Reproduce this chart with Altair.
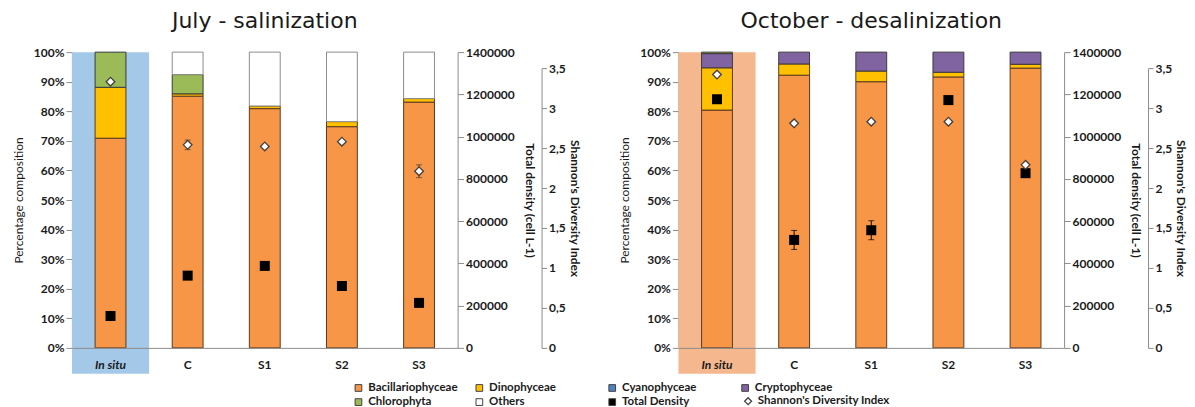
import altair as alt
import pandas as pd

categories = ["In situ", "C", "S1", "S2", "S3"]
groups = ["Bacillariophyceae", "Dinophyceae", "Cyanophyceae", "Cryptophyceae", "Chlorophyta", "Others"]
group_colors = ["#F79646", "#FFC000", "#4F81BD", "#8064A2", "#9BBB59", "#FFFFFF"]
group_strokes = ["#5a3a22", "#5a3a22", "#3a3a3a", "#3a3a3a", "#3a3a3a", "#8c8c8c"]

# July - salinization (percent composition)
july = {
    "Bacillariophyceae": [70.9, 85.1, 80.9, 74.8, 83.1],
    "Dinophyceae": [17.2, 0.8, 0.9, 1.7, 1.2],
    "Cyanophyceae": [0, 0, 0, 0, 0],
    "Cryptophyceae": [0, 0, 0, 0, 0],
    "Chlorophyta": [11.9, 6.5, 0, 0, 0],
    "Others": [0, 7.6, 18.2, 23.5, 15.7],
}
july_density = [151000, 342000, 388000, 293000, 213000]
july_density_err = [0, 0, 0, 0, 0]
july_shannon = [3.33, 2.54, 2.52, 2.58, 2.21]
july_shannon_err = [0, 0.06, 0, 0, 0.08]

# October - desalinization
october = {
    "Bacillariophyceae": [80.4, 92.2, 90.0, 91.6, 94.6],
    "Dinophyceae": [14.3, 3.8, 3.6, 1.6, 1.3],
    "Cyanophyceae": [0, 0, 0, 0, 0],
    "Cryptophyceae": [4.8, 4.0, 6.4, 6.8, 4.1],
    "Chlorophyta": [0.5, 0, 0, 0, 0],
    "Others": [0, 0, 0, 0, 0],
}
october_density = [1177000, 511000, 557000, 1173000, 827000]
october_density_err = [0, 45000, 45000, 0, 0]
october_shannon = [3.42, 2.81, 2.83, 2.83, 2.29]
october_shannon_err = [0, 0, 0, 0, 0]

# legend entries (blocks of 2 columns, row-major)
legend_a_items = ["Bacillariophyceae", "Dinophyceae", "Chlorophyta", "Others"]
legend_a_colors = ["#F79646", "#FFC000", "#9BBB59", "#FFFFFF"]
legend_b_items = ["Cyanophyceae", "Cryptophyceae", "Total Density"]
legend_b_colors = ["#4F81BD", "#8064A2", "#000000"]
legend_c_items = ["Shannon's Diversity Index"]
legend_c_shapes = ["diamond"]

W_LEFT, W_RIGHT, H = 386, 386, 296
LABEL_FONT = "Lato"
LEG_Y = 330


def legend_params(x, y, colpad):
    return dict(title=None, orient="none", legendX=x, legendY=y, columns=2,
                direction="horizontal", gridAlign="each", columnPadding=colpad, rowPadding=1.5,
                labelFont=LABEL_FONT, labelFontSize=11.5, labelFontWeight="bold",
                labelColor="#1a1a1a", symbolSize=45, labelOffset=4)


def panel(title, comp, density, density_err, shannon, shannon_err, bg_color, width,
          leg_items, leg_colors, leg_x, leg_pad, with_shape_legend):
    rows = []
    for gi, g in enumerate(groups):
        for ci, c in enumerate(categories):
            v = comp[g][ci]
            if v > 0:
                rows.append({"cat": c, "group": g, "order": gi, "pct": v / 100.0,
                             "colour": group_colors[gi], "edge": group_strokes[gi]})
    comp_df = pd.DataFrame(rows)
    pts = pd.DataFrame({
        "cat": categories,
        "density": density,
        "d_lo": [d - e for d, e in zip(density, density_err)],
        "d_hi": [d + e for d, e in zip(density, density_err)],
        "d_err": density_err,
        "shannon": shannon,
        "s_lo": [s - e for s, e in zip(shannon, shannon_err)],
        "s_hi": [s + e for s, e in zip(shannon, shannon_err)],
        "s_err": shannon_err,
    })

    xenc = alt.X("cat:N", sort=categories,
                 scale=alt.Scale(domain=categories, paddingInner=0, paddingOuter=0),
                 axis=alt.Axis(title=None, labelAngle=0, ticks=False, labelPadding=12,
                               domainColor="#8c8c8c", labelFont=LABEL_FONT, labelFontSize=12,
                               labelFontWeight="bold", labelColor="#1a1a1a", zindex=1,
                               labelFontStyle={"condition": {"test": "datum.value == 'In situ'", "value": "italic"}, "value": "normal"}))

    layers = []
    leg = alt.Chart(pd.DataFrame({"item": leg_items})).mark_point(filled=True, shape="square").encode(
        x=alt.value(40), y=alt.value(150),
        color=alt.Color("item:N", scale=alt.Scale(domain=leg_items, range=leg_colors),
                        legend=alt.Legend(symbolType="square", symbolStrokeColor="#404040",
                                          symbolStrokeWidth=1, symbolOpacity=1,
                                          **legend_params(leg_x, LEG_Y, leg_pad))),
    )
    layers.append(leg)
    if with_shape_legend:
        leg_c = alt.Chart(pd.DataFrame({"sh": legend_c_items})).mark_point(
            filled=False, color="#404040", strokeWidth=1.2).encode(
            x=alt.value(40), y=alt.value(150),
            shape=alt.Shape("sh:N", scale=alt.Scale(domain=legend_c_items, range=legend_c_shapes),
                            legend=alt.Legend(symbolStrokeColor="#404040", symbolStrokeWidth=1.2,
                                              symbolOpacity=1, symbolSize=50,
                                              **{k: v for k, v in legend_params(64, LEG_Y + 13.5, 10).items()
                                                 if k != "symbolSize"})),
        )
        layers.append(leg_c)

    bg = alt.Chart(pd.DataFrame({"cat": ["In situ"]})).mark_rect(color=bg_color).encode(
        x=xenc, y=alt.value(0), y2=alt.value(H + 26))
    layers.append(bg)

    bars = alt.Chart(comp_df).mark_bar(width={"band": 0.4}, strokeWidth=1).encode(
        x=xenc,
        y=alt.Y("pct:Q", stack="zero",
                scale=alt.Scale(domain=[0, 1], nice=False),
                axis=alt.Axis(orient="left", title="Percentage composition", format=".0%",
                              values=[i / 10 for i in range(11)], grid=False,
                              domainColor="#8c8c8c", tickColor="#8c8c8c", tickSize=6,
                              labelFont=LABEL_FONT, labelFontSize=12, labelFontWeight="bold",
                              labelColor="#1a1a1a", titleFont=LABEL_FONT, titleFontSize=12,
                              titleFontWeight="normal", titleColor="#1a1a1a", titlePadding=8)),
        color=alt.Color("colour:N", scale=None),
        stroke=alt.Stroke("edge:N", scale=None),
        order=alt.Order("order:Q"),
    )
    layers.append(bars)

    dens_scale = alt.Scale(domain=[0, 1400000], nice=False)
    dens_axis = alt.Axis(orient="right", title="Total density (cell L-1)", format="d",
                         values=[i * 200000 for i in range(8)], grid=False,
                         domainColor="#8c8c8c", tickColor="#8c8c8c", tickSize=6,
                         labelFont=LABEL_FONT, labelFontSize=12, labelFontWeight="bold",
                         labelColor="#1a1a1a", titleFont=LABEL_FONT, titleFontSize=12,
                         titleFontWeight="bold", titleColor="#1a1a1a", titlePadding=8)
    d_err = pts[pts["d_err"] > 0]
    d_rule = alt.Chart(d_err).mark_rule(color="black", strokeWidth=1).encode(
        x=xenc, y=alt.Y("d_lo:Q", scale=dens_scale, axis=dens_axis), y2="d_hi:Q")
    d_cap_lo = alt.Chart(d_err).mark_tick(orient="horizontal", size=6, thickness=1, color="black").encode(
        x=xenc, y=alt.Y("d_lo:Q", scale=dens_scale, axis=dens_axis))
    d_cap_hi = alt.Chart(d_err).mark_tick(orient="horizontal", size=6, thickness=1, color="black").encode(
        x=xenc, y=alt.Y("d_hi:Q", scale=dens_scale, axis=dens_axis))
    d_pts = alt.Chart(pts).mark_point(shape="square", filled=True, color="black", size=100, opacity=1).encode(
        x=xenc, y=alt.Y("density:Q", scale=dens_scale, axis=dens_axis))
    layers.append(alt.layer(d_rule, d_cap_lo, d_cap_hi, d_pts))

    sh_scale = alt.Scale(domain=[0, 3.5], range=[H, 16], nice=False)
    sh_axis = alt.Axis(orient="right", offset=84, title="Shannon's Diversity Index",
                       values=[i * 0.5 for i in range(8)], grid=False,
                       labelExpr="replace(toString(datum.value), '.', ',')",
                       domainColor="#8c8c8c", tickColor="#8c8c8c", tickSize=5,
                       labelFont=LABEL_FONT, labelFontSize=12, labelFontWeight="bold",
                       labelColor="#1a1a1a", titleFont=LABEL_FONT, titleFontSize=12,
                       titleFontWeight="bold", titleColor="#1a1a1a", titlePadding=2)
    s_err = pts[pts["s_err"] > 0]
    s_rule = alt.Chart(s_err).mark_rule(color="#404040", strokeWidth=1).encode(
        x=xenc, y=alt.Y("s_lo:Q", scale=sh_scale, axis=sh_axis), y2="s_hi:Q")
    s_cap_lo = alt.Chart(s_err).mark_tick(orient="horizontal", size=6, thickness=1, color="#404040").encode(
        x=xenc, y=alt.Y("s_lo:Q", scale=sh_scale, axis=sh_axis))
    s_cap_hi = alt.Chart(s_err).mark_tick(orient="horizontal", size=6, thickness=1, color="#404040").encode(
        x=xenc, y=alt.Y("s_hi:Q", scale=sh_scale, axis=sh_axis))
    s_pts = alt.Chart(pts).mark_point(shape="diamond", filled=True, fill="white", stroke="#404040",
                                      strokeWidth=1.3, size=75, opacity=1).encode(
        x=xenc, y=alt.Y("shannon:Q", scale=sh_scale, axis=sh_axis))
    layers.append(alt.layer(s_rule, s_cap_lo, s_cap_hi, s_pts))

    return alt.layer(*layers).resolve_scale(y="independent").properties(
        width=width, height=H,
        title=alt.TitleParams(title, fontSize=22, font="DejaVu Sans", fontWeight="normal",
                              color="#1a1a1a", anchor="middle", offset=13),
    )


left = panel("July - salinization", july, july_density, july_density_err, july_shannon,
             july_shannon_err, "#A4C8E8", W_LEFT,
             legend_a_items, legend_a_colors, 281, 16, False)
right = panel("October - desalinization", october, october_density, october_density_err,
              october_shannon, october_shannon_err, "#F5B78E", W_RIGHT,
              legend_b_items, legend_b_colors, -72, 42, True)

chart = alt.hconcat(left, right, spacing=221, bounds="flush").resolve_scale(
    color="independent", shape="independent"
).resolve_legend(color="independent", shape="independent").properties(
    padding={"left": 4, "top": 2, "right": 0, "bottom": 0}
).configure_view(stroke=None)

chart.save("out.html", embed_options={"renderer": "svg", "actions": False})
